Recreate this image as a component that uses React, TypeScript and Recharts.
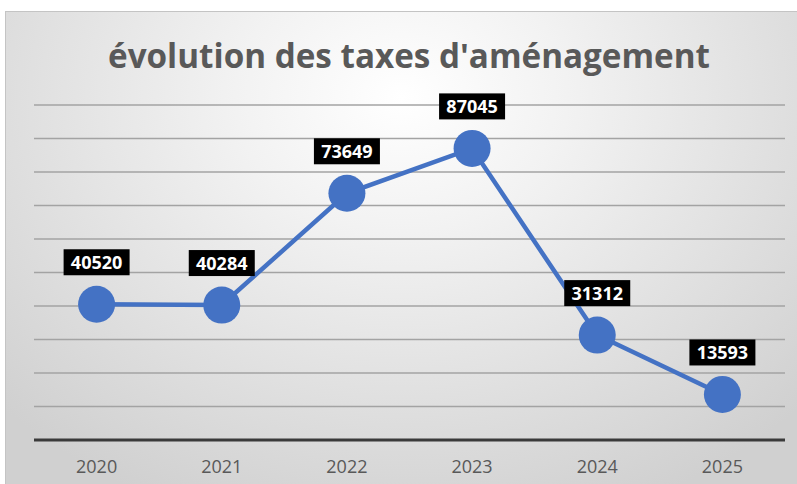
import { LineChart, Line, XAxis, YAxis, CartesianGrid, LabelList } from 'recharts';

const years = ['2020', '2021', '2022', '2023', '2024', '2025'];
const taxes = [40520, 40284, 73649, 87045, 31312, 13593];
const yTicks = [0, 10000, 20000, 30000, 40000, 50000, 60000, 70000, 80000, 90000, 100000];

const chartData = years.map((year, i) => ({ year, value: taxes[i] }));

const BLUE = '#4472C4';

function ValueLabel(props: any) {
  const { x, y, value } = props;
  const w = 66;
  const h = 26;
  const cy = y - 42;
  return (
    <g>
      <rect x={x - w / 2} y={cy - h / 2} width={w} height={h} fill="#000" />
      <text
        x={x}
        y={cy}
        dy="0.36em"
        textAnchor="middle"
        fill="#fff"
        fontSize={18}
        fontWeight={700}
        fontFamily="'Open Sans', sans-serif"
      >
        {value}
      </text>
    </g>
  );
}

export default function App() {
  return (
    <div style={{ position: 'absolute', left: 0, top: 0, width: 797, height: 484, background: '#fff' }}>
      <div
        style={{
          position: 'absolute',
          left: 5,
          top: 11,
          width: 792,
          height: 473,
          boxSizing: 'border-box',
          borderTop: '1px solid #c4c4c4',
          borderLeft: '1px solid #c4c4c4',
          background: 'radial-gradient(ellipse 70% 95% at 50% 18%, #ffffff 0%, #f2f2f2 30%, #d0d0d0 100%)',
        }}
      />
      <div style={{ position: 'absolute', left: 5, top: 11 }}>
        <LineChart width={792} height={473} data={chartData} margin={{ top: 94, right: 12, bottom: 4, left: 29 }}>
          <CartesianGrid horizontal vertical={false} stroke="#a3a3a3" strokeWidth={1.5} />
          <XAxis
            dataKey="year"
            height={40}
            padding={{ left: 62.6, right: 62.6 }}
            tickLine={false}
            tickSize={0}
            tickMargin={20}
            axisLine={{ stroke: '#3a3a3a', strokeWidth: 3 }}
            tick={{ fill: '#595959', fontSize: 18, fontFamily: "'Open Sans', sans-serif" }}
          />
          <YAxis hide domain={[0, 100000]} ticks={yTicks} />
          <Line
            type="linear"
            dataKey="value"
            stroke={BLUE}
            strokeWidth={4.5}
            dot={{ r: 18.5, fill: BLUE, stroke: BLUE, strokeWidth: 0 }}
            activeDot={false}
            isAnimationActive={false}
          >
            <LabelList dataKey="value" content={<ValueLabel />} />
          </Line>
        </LineChart>
      </div>
      <svg style={{ position: 'absolute', left: 0, top: 0 }} width={797} height={100}>
        <text
          x={409}
          y={68}
          textAnchor="middle"
          textLength={602}
          lengthAdjust="spacingAndGlyphs"
          fill="#595959"
          fontSize={34}
          fontWeight={700}
          fontFamily="'Open Sans', sans-serif"
        >
          évolution des taxes d'aménagement
        </text>
      </svg>
    </div>
  );
}
